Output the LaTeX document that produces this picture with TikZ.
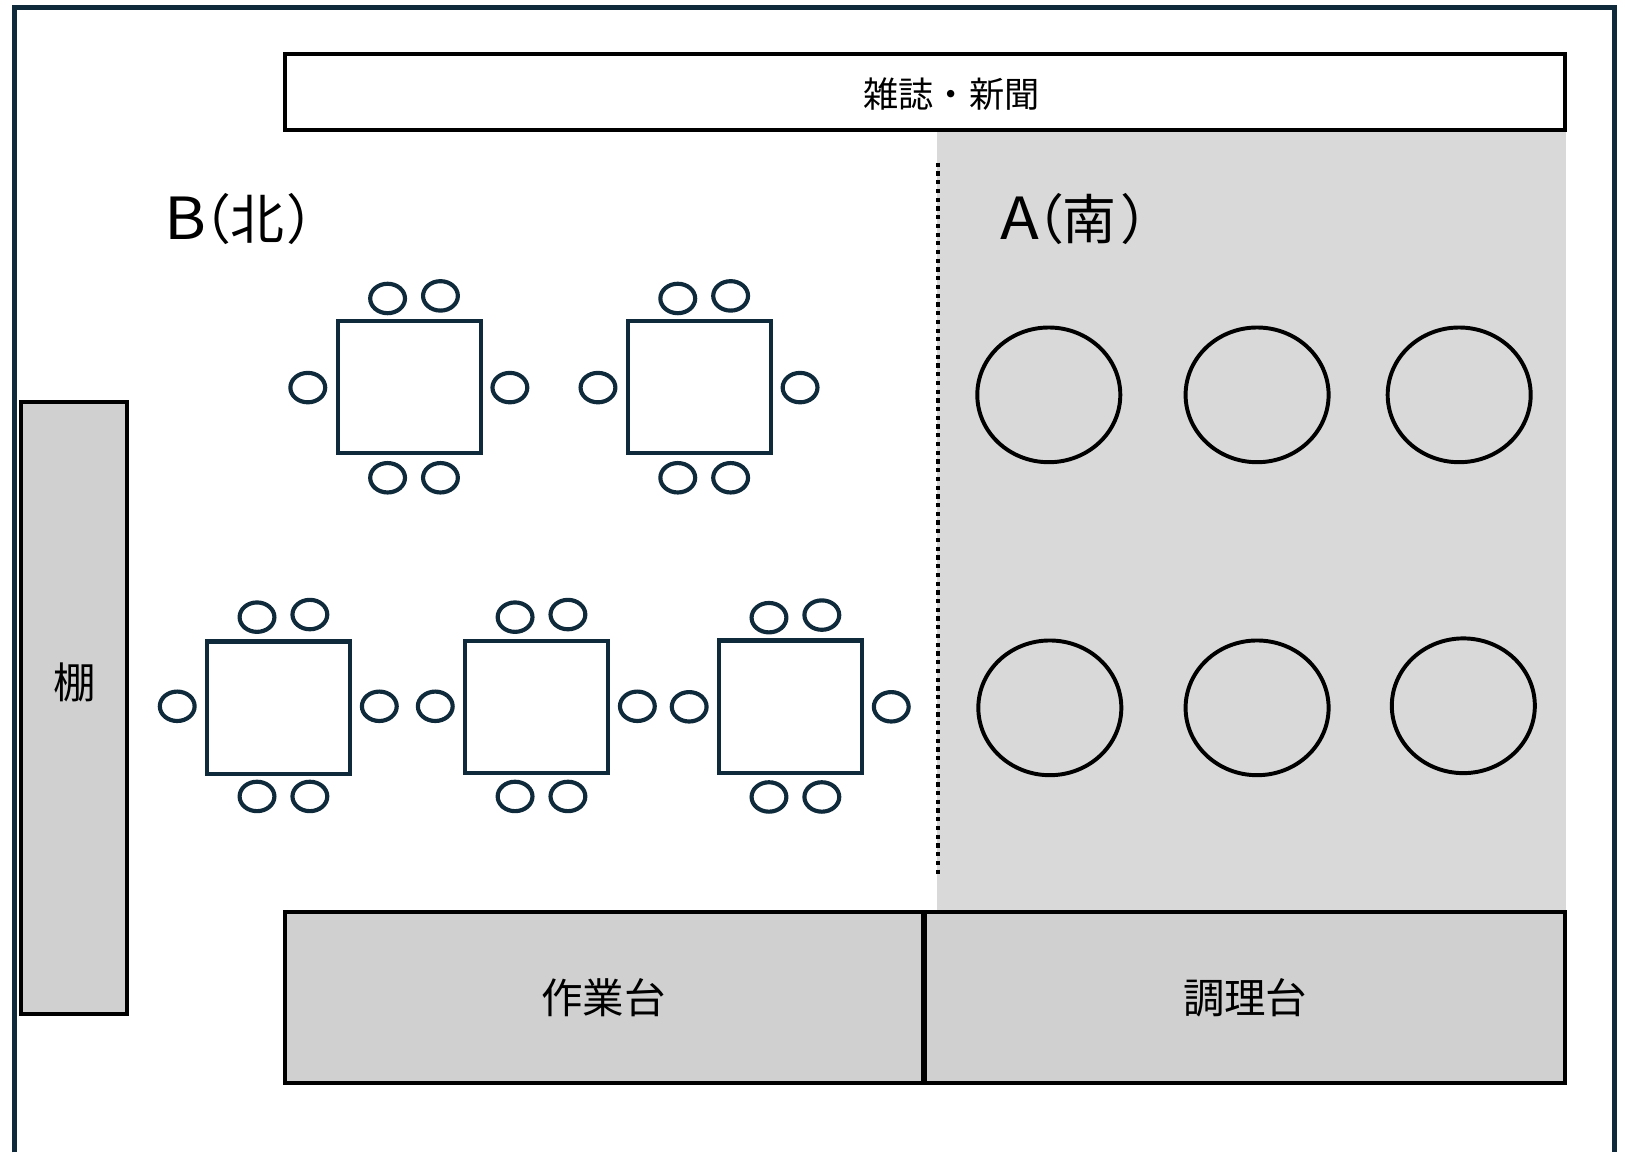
\documentclass[tikz,border=0pt]{standalone}
\usepackage{fontspec}
\setmainfont{Noto Sans CJK JP}
\newfontfamily\widelatin[FakeStretch=1.1]{Noto Sans CJK JP}
\definecolor{navy}{HTML}{0E2A3B}
\definecolor{zonegray}{HTML}{D9D9D9}
\definecolor{benchgray}{HTML}{D0D0D0}
\tikzset{
  x=1pt,y=-1pt,
  frameline/.style={draw=navy,line width=4.5pt},
  furn/.style={draw=black,line width=3.9pt,line join=miter},
  bench/.style={furn,fill=benchgray},
  tabletop/.style={draw=navy,line width=4pt,fill=white},
  chair/.style={draw=navy,line width=4pt,fill=white},
  roundtable/.style={draw=black,line width=3.8pt},
  divider/.style={draw=black,line width=4.1pt,dash pattern=on 4.1pt off 4.32pt},
  lab/.style={inner sep=0pt,text=black,anchor=center},
  zonelab/.style={inner sep=0pt,text=black,anchor=base west},
}
\newcommand{\latinbig}{\widelatin\fontsize{56}{56}\selectfont}
\newcommand{\cjkbig}{\normalfont\fontsize{52}{52}\selectfont}
\newcommand{\chairat}[2]{\draw[chair] (#1,#2) ellipse [x radius=16.8,y radius=14.2];}
% #1,#2 top-left corner of the table, #3 upward shift of the chairs
\newcommand{\tableset}[3]{%
  \begin{scope}[shift={(#1,#2)}]
    \draw[tabletop] (0,0) rectangle (138,127.5);
    \begin{scope}[yshift=#3]
    \chairat{48}{-22}\chairat{99}{-24.5}
    \chairat{-29}{64}\chairat{166}{64}
    \chairat{48}{151}\chairat{99}{151}
    \end{scope}
  \end{scope}}
\begin{document}
\begin{tikzpicture}
\useasboundingbox (0,0) rectangle (1568,1111.6);
\fill[white] (0,0) rectangle (1568,1111.6);
\fill[zonegray] (904,125) rectangle (1511,879);
\draw[frameline] (14,1112) -- (14,7) -- (1558,7) -- (1558,1112);
\draw[furn,fill=white] (275,52) rectangle (1510,125);
\node[lab,font=\fontsize{34}{34}\selectfont] (mag) at (918,91) {雑誌・新聞};
\draw[bench] (20,388) rectangle (123,978);
\node[lab,font=\fontsize{41}{41}\selectfont] (shelf) at (72.5,658) {棚};
\draw[bench] (275,880) rectangle (891,1045);
\node[lab,font=\fontsize{40}{40}\selectfont] (work) at (582.5,963) {作業台};
\draw[bench] (893,880) rectangle (1510,1045);
\node[lab,font=\fontsize{40}{40}\selectfont] (cook) at (1201.5,963) {調理台};
\draw[divider] (905,157) -- (905,846);
\node[zonelab] (zoneb) at (159,231) {\latinbig B\kern-28pt\cjkbig （\kern-1.5pt 北\kern2.5pt ）};
\node[zonelab] (zonea) at (965,231) {\latinbig A\kern-28pt\cjkbig （\kern-1pt 南\kern3.5pt ）};
\tableset{326}{310}{0pt}
\tableset{606}{310}{0pt}
\tableset{200}{619}{1.5pt}
\tableset{449}{618.5}{1pt}
\tableset{694}{618}{0pt}
\foreach \cx/\cy in {1012/381,1213/381,1408/381,1013/683,1213/683,1412/681}
  \draw[roundtable] (\cx,\cy) ellipse [x radius=69,y radius=65];
\end{tikzpicture}
\end{document}
